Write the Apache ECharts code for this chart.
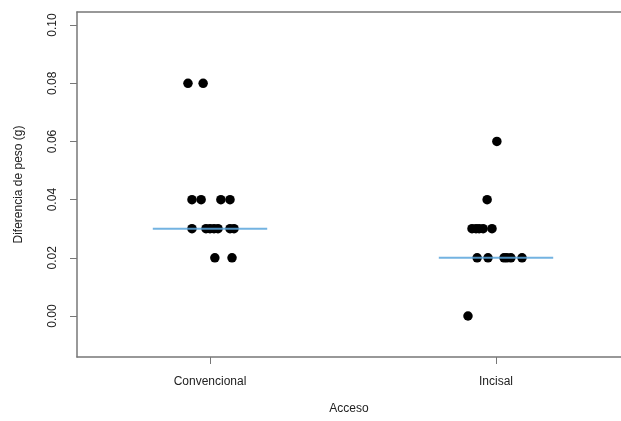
<!DOCTYPE html>
<html>
<head>
<meta charset="utf-8">
<script src="https://cdn.jsdelivr.net/npm/echarts@6/dist/echarts.min.js"></script>
<style>html,body{margin:0;padding:0;background:#fff}#c{width:621px;height:421px}</style>
</head>
<body>
<div id="c"></div>
<script>
// Categories and tick labels
const categories = ['Convencional', 'Incisal'];
const yTicks = [0.00, 0.02, 0.04, 0.06, 0.08, 0.10];
const yTickLabels = ['0.00', '0.02', '0.04', '0.06', '0.08', '0.10'];

const convencionalValues = [0.08, 0.08, 0.04, 0.04, 0.04, 0.04, 0.03, 0.03, 0.03, 0.03, 0.03, 0.03, 0.03, 0.02, 0.02];
const convencionalJitter = [-0.077, -0.024, -0.063, -0.031, 0.038, 0.070, -0.063, -0.014, 0.000, 0.014, 0.028, 0.070, 0.084, 0.017, 0.077];
const incisalValues = [0.06, 0.04, 0.03, 0.03, 0.03, 0.03, 0.03, 0.02, 0.02, 0.02, 0.02, 0.02, 0.02, 0.00];
const incisalJitter = [0.003, -0.031, -0.084, -0.070, -0.059, -0.045, -0.014, -0.066, -0.028, 0.028, 0.038, 0.052, 0.091, -0.098];

// Medians per group
const medians = [0.03, 0.02];

const groupValues = [convencionalValues, incisalValues];
const groupJitter = [convencionalJitter, incisalJitter];

const textColor = '#222';
const axisColor = '#777';
const font = 'Liberation Sans, Arial, Helvetica, sans-serif';
const xMin = 0.535, xMax = 2.437;

const series = [];
groupValues.forEach((vals, g) => {
  series.push({
    type: 'scatter',
    symbol: 'circle',
    symbolSize: 9.5,
    itemStyle: { color: '#000', opacity: 1 },
    z: 2,
    silent: true,
    data: vals.map((v, i) => [g + 1 + groupJitter[g][i], v])
  });
});
medians.forEach((m, g) => {
  series.push({
    type: 'line',
    symbol: 'none',
    z: 3,
    silent: true,
    lineStyle: { color: '#5aa6dc', width: 2, opacity: 0.85 },
    data: [[g + 1 - 0.2, m], [g + 1 + 0.2, m]]
  });
});

const chart = echarts.init(document.getElementById('c'), null, { renderer: 'canvas' });
chart.setOption({
  animation: false,
  backgroundColor: '#fff',
  grid: { left: 77, top: 12, width: 544, height: 345, show: false },
  xAxis: [{
    type: 'value',
    min: xMin,
    max: xMax,
    name: 'Acceso',
    nameLocation: 'middle',
    nameGap: 46,
    nameTextStyle: { color: textColor, fontSize: 12, fontFamily: font },
    splitLine: { show: false },
    axisLine: { show: true, onZero: false, lineStyle: { color: axisColor, width: 1.5 } },
    axisTick: { show: true, customValues: [1, 2], length: 7, lineStyle: { color: axisColor } },
    axisLabel: {
      customValues: [1, 2],
      formatter: v => categories[Math.round(v) - 1],
      color: textColor, fontSize: 12, fontFamily: font, margin: 19
    }
  }, {
    type: 'value',
    position: 'top',
    min: xMin,
    max: xMax,
    splitLine: { show: false },
    axisLine: { show: true, onZero: false, lineStyle: { color: axisColor, width: 1.5 } },
    axisTick: { show: false },
    axisLabel: { show: false }
  }],
  yAxis: {
    type: 'value',
    min: -0.0141,
    max: 0.1045,
    name: 'Diferencia de peso (g)',
    nameLocation: 'middle',
    nameRotate: 90,
    nameGap: 52,
    nameTextStyle: { color: textColor, fontSize: 12, fontFamily: font },
    splitLine: { show: false },
    axisLine: { show: true, onZero: false, lineStyle: { color: axisColor, width: 1.5 } },
    axisTick: { show: true, customValues: yTicks, length: 7, lineStyle: { color: axisColor } },
    axisLabel: {
      customValues: yTicks,
      rotate: 90,
      formatter: v => yTickLabels[yTicks.findIndex(t => Math.abs(t - v) < 1e-9)],
      color: textColor, fontSize: 12, fontFamily: font, margin: 18
    }
  },
  series: series
});
</script>
</body>
</html>
